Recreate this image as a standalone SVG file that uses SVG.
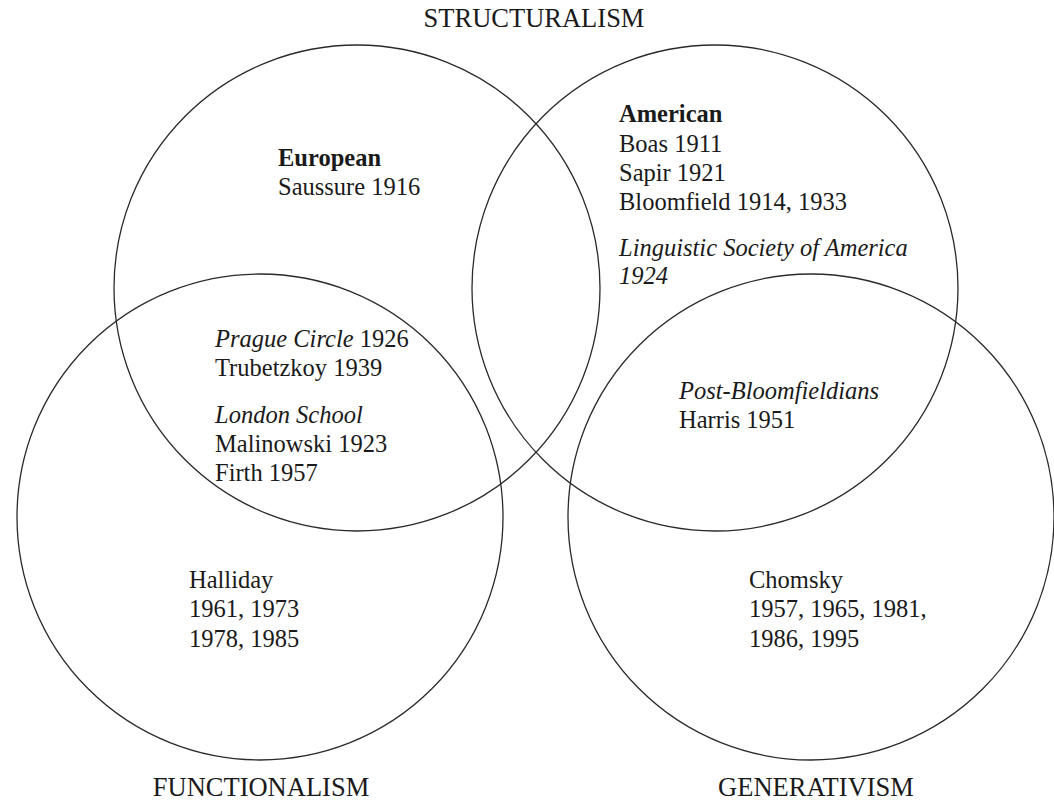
<svg xmlns="http://www.w3.org/2000/svg" width="1054" height="800" viewBox="0 0 1054 800">
<style>
  .c { fill: none; stroke: #2a2a2a; stroke-width: 1.3; }
  text { font-family: "Liberation Serif", "Times New Roman", serif; font-size: 24.5px; fill: #1a1a1a; }
  .b { font-weight: bold; }
  .i { font-style: italic; }
  .t { text-anchor: middle; font-size: 26.5px; }
</style>
<rect width="1054" height="800" fill="#ffffff"/>
<g id="circles">
  <circle id="structuralism-european" class="c" cx="357" cy="288" r="243"/>
  <circle id="structuralism-american" class="c" cx="715" cy="288" r="243"/>
  <circle id="functionalism" class="c" cx="260" cy="517" r="243"/>
  <circle id="generativism" class="c" cx="811" cy="517" r="243"/>
</g>
<g id="titles">
  <text class="t" x="534" y="27">STRUCTURALISM</text>
  <text class="t" x="261" y="796">FUNCTIONALISM</text>
  <text class="t" x="816" y="796">GENERATIVISM</text>
</g>
<g id="european">
  <text class="b" x="278" y="166">European</text>
  <text x="278" y="195">Saussure 1916</text>
</g>
<g id="american">
  <text class="b" x="619" y="122">American</text>
  <text x="619" y="152">Boas 1911</text>
  <text x="619" y="181">Sapir 1921</text>
  <text x="619" y="210">Bloomfield 1914, 1933</text>
  <text class="i" x="619" y="256">Linguistic Society of America</text>
  <text class="i" x="619" y="284">1924</text>
</g>
<g id="prague-london">
  <text x="215" y="347"><tspan class="i">Prague Circle</tspan> 1926</text>
  <text x="215" y="376">Trubetzkoy 1939</text>
  <text class="i" x="215" y="423">London School</text>
  <text x="215" y="452">Malinowski 1923</text>
  <text x="215" y="481">Firth 1957</text>
</g>
<g id="post-bloomfieldians">
  <text class="i" x="679" y="399">Post-Bloomfieldians</text>
  <text x="679" y="428">Harris 1951</text>
</g>
<g id="halliday">
  <text x="189" y="588">Halliday</text>
  <text x="189" y="617">1961, 1973</text>
  <text x="189" y="647">1978, 1985</text>
</g>
<g id="chomsky">
  <text x="749" y="588">Chomsky</text>
  <text x="749" y="617">1957, 1965, 1981,</text>
  <text x="749" y="647">1986, 1995</text>
</g>
</svg>
